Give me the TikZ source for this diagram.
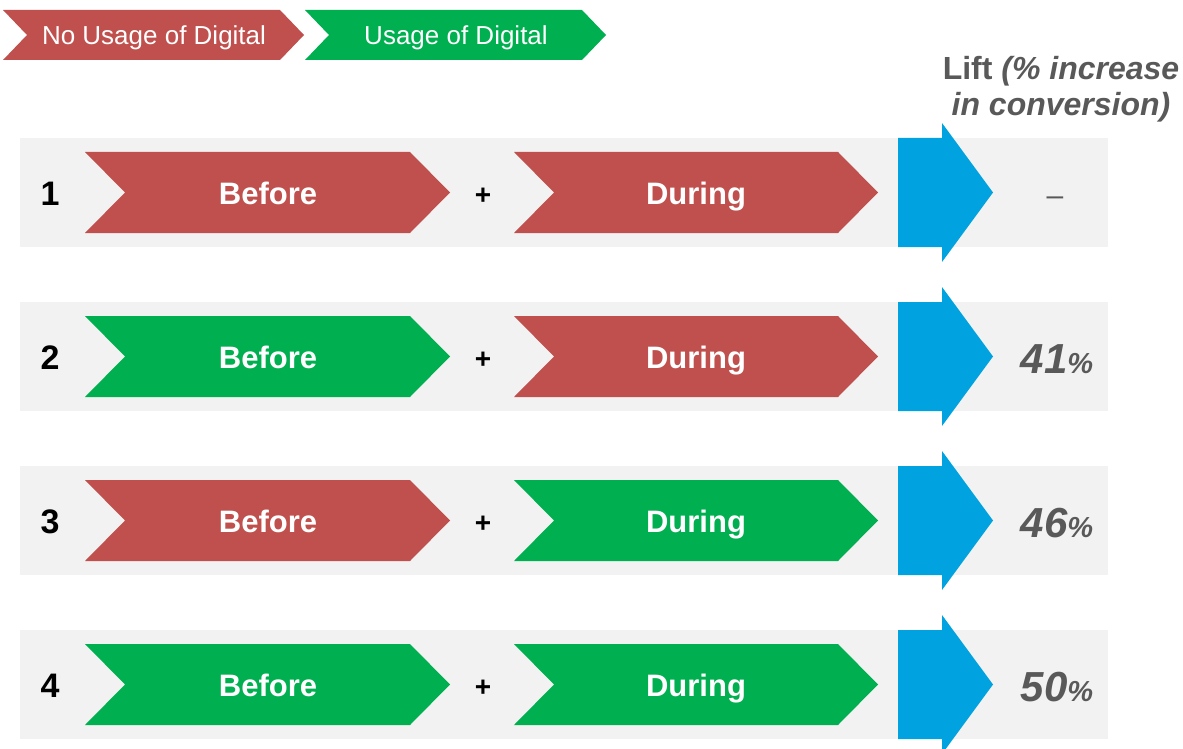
\documentclass[tikz,border=0pt]{standalone}
\usepackage{fontspec}
\setmainfont{Liberation Sans}
\definecolor{cred}{HTML}{C0504D}
\definecolor{cgreen}{HTML}{00B050}
\definecolor{cblue}{HTML}{00A3E0}
\definecolor{cband}{HTML}{F2F2F2}
\definecolor{cgray}{HTML}{595959}
\begin{document}
\begin{tikzpicture}[x=1pt,y=-1pt,
  chevtext/.style={text=white, font=\fontsize{31}{36}\selectfont\bfseries, inner sep=0pt, text height=22.2pt, text depth=0pt},
  legtext/.style={text=white, font=\fontsize{26}{30}\selectfont, inner sep=0pt, text height=18.6pt, text depth=0pt},
  numtext/.style={text=black, font=\fontsize{34}{40}\selectfont\bfseries, inner sep=0pt, text height=24.3pt, text depth=0pt},
  plustext/.style={text=black, font=\fontsize{28}{32}\selectfont\bfseries, inner sep=0pt},
  valtext/.style={text=cgray, font=\bfseries\itshape, inner sep=0pt, anchor=base},
  headtext/.style={text=cgray, font=\fontsize{32}{36}\selectfont\bfseries, inner sep=0pt, anchor=base}]
\useasboundingbox (0,0) rectangle (1183,749);

% legend
\fill[cred] (3,10) -- (280,10) -- (304,35) -- (280,60) -- (3,60) -- (27,35) -- cycle;
\node[legtext] (legno) at (154,35) {No Usage of Digital};
\fill[cgreen] (305,10) -- (582,10) -- (606,35) -- (582,60) -- (305,60) -- (329,35) -- cycle;
\node[legtext] (legyes) at (456,35) {Usage of Digital};

% header
\node[headtext] (head1) at (1061,80) {Lift \itshape(\% increase};
\node[headtext] (head2) at (1061,116) {\itshape in conversion)};

% rows
\foreach \i/\cb/\cd in {1/cred/cred, 2/cgreen/cred, 3/cred/cgreen, 4/cgreen/cgreen}{
  \pgfmathsetmacro\T{138+164*(\i-1)}
  \pgfmathsetmacro\B{\T+109}
  \pgfmathsetmacro\C{\T+54.5}
  \fill[cband] (20,\T) rectangle (1108,\B);
  \node[numtext] (num\i) at (50,\C+1) {\i};
  \fill[\cb] (85,\T+14) -- (410,\T+14) -- (450,\C) -- (410,\T+95) -- (85,\T+95) -- (125,\C) -- cycle;
  \node[chevtext] (before\i) at (268,\C+1) {Before};
  \node[plustext] (plus\i) at (483,\C+4) {+};
  \fill[\cd] (514,\T+14) -- (838,\T+14) -- (878,\C) -- (838,\T+95) -- (514,\T+95) -- (554,\C) -- cycle;
  \node[chevtext] (during\i) at (696,\C+1) {During};
  \fill[cblue] (898,\T) -- (942,\T) -- (942,\T-15) -- (993,\C) -- (942,\B+15) -- (942,\B) -- (898,\B) -- cycle;
  \coordinate (val\i) at (1057,\C+17);
}
\node[text=cgray, font=\fontsize{30}{34}\selectfont, inner sep=0pt] (v1) at (1055,201) {–};
\node[valtext] (v2) at (val2) {\fontsize{42}{46}\selectfont 41\fontsize{29}{32}\selectfont\%};
\node[valtext] (v3) at (val3) {\fontsize{42}{46}\selectfont 46\fontsize{29}{32}\selectfont\%};
\node[valtext] (v4) at (val4) {\fontsize{42}{46}\selectfont 50\fontsize{29}{32}\selectfont\%};
\end{tikzpicture}
\end{document}
